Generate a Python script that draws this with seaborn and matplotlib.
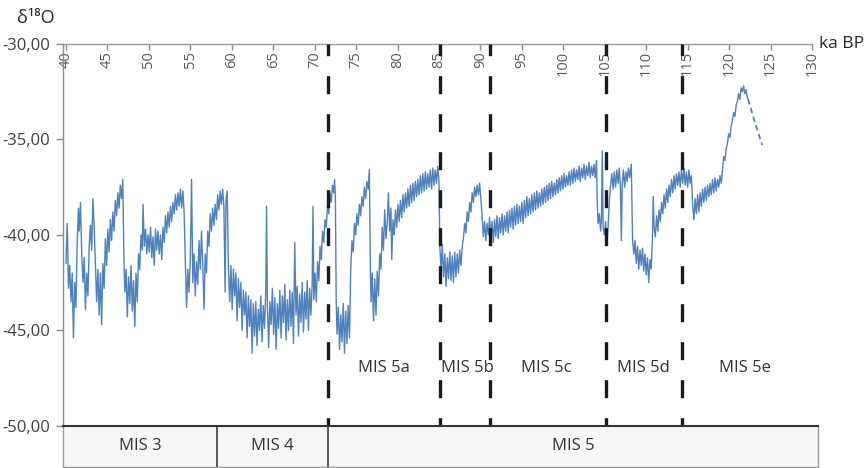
import matplotlib
matplotlib.use("Agg")
import matplotlib.pyplot as plt
import seaborn as sns
import pandas as pd

# ----------------------------
# Data (ka BP, per mil)
# ----------------------------
age_ka = [
    # MIS 3
    40.0, 40.15, 40.3, 40.45, 40.6, 40.75, 40.9, 41.05, 41.2, 41.35,
    41.5, 41.6, 41.75, 41.9, 42.05, 42.2, 42.35, 42.5, 42.65, 42.8,
    42.95, 43.1, 43.25, 43.4, 43.55, 43.7, 43.85, 44.0, 44.15, 44.3,
    44.45, 44.6, 44.75, 44.9, 45.05, 45.2, 45.35, 45.5, 45.65, 45.8,
    45.95, 46.1, 46.25, 46.4, 46.55, 46.7, 46.85, 47.0, 47.1, 47.25,
    47.4, 47.55, 47.7, 47.85, 48.0, 48.15, 48.3, 48.45, 48.6, 48.75,
    48.9, 49.05, 49.2, 49.3, 49.45, 49.6, 49.75, 49.9, 50.05, 50.2,
    50.35, 50.5, 50.65, 50.8, 50.95, 51.1, 51.25, 51.4, 51.55, 51.7,
    51.85, 52.0, 52.15, 52.3, 52.45, 52.6, 52.75, 52.9, 53.05, 53.2,
    53.35, 53.5, 53.65, 53.8, 53.95, 54.1, 54.25, 54.4, 54.55, 54.7,
    54.85, 55.0, 55.15, 55.3, 55.45, 55.6, 55.75, 55.9, 56.05, 56.2,
    56.35, 56.5, 56.65, 56.8, 56.95, 57.1, 57.25, 57.4, 57.55, 57.7,
    57.85, 58.0, 58.15, 58.3, 58.45, 58.6, 58.75, 58.9, 59.05, 59.2,
    59.3, 59.45, 59.6, 59.75, 59.9,
    # MIS 4
    60.05, 60.2, 60.35, 60.5, 60.65, 60.8, 60.95, 61.1, 61.25, 61.4,
    61.55, 61.7, 61.85, 62.0, 62.15, 62.3, 62.45, 62.6, 62.75, 62.9,
    63.05, 63.2, 63.35, 63.5, 63.65, 63.8, 63.95, 64.1, 64.2, 64.3,
    64.45, 64.6, 64.75, 64.9, 65.05, 65.2, 65.35, 65.5, 65.65, 65.8,
    65.95, 66.1, 66.25, 66.4, 66.55, 66.7, 66.85, 67.0, 67.15, 67.3,
    67.45, 67.6, 67.75, 67.9, 68.05, 68.2, 68.35, 68.5, 68.65, 68.8,
    68.95, 69.1, 69.25, 69.4, 69.55, 69.7, 69.8, 69.9, 70.05, 70.2,
    70.35, 70.5, 70.65, 70.8, 70.95, 71.1, 71.25,
    # MIS 5a
    71.4, 71.55, 71.7, 71.85, 72.0, 72.15, 72.3, 72.4, 72.5, 72.6,
    72.7, 72.85, 73.0, 73.15, 73.3, 73.45, 73.6, 73.75, 73.9, 74.05,
    74.2, 74.35, 74.5, 74.65, 74.8, 74.95, 75.1, 75.25, 75.4, 75.55,
    75.7, 75.85, 76.0, 76.15, 76.3, 76.45, 76.6, 76.7, 76.8, 76.95,
    77.1, 77.25, 77.4, 77.55, 77.7, 77.85, 78.0, 78.15, 78.3, 78.45,
    78.6, 78.75, 78.9, 79.05, 79.2, 79.3, 79.45, 79.6, 79.75, 79.9,
    80.05, 80.2, 80.35, 80.5, 80.65, 80.8, 80.95, 81.1, 81.25, 81.4,
    81.55, 81.7, 81.85, 82.0, 82.15, 82.3, 82.45, 82.6, 82.75, 82.9,
    83.05, 83.2, 83.35, 83.5, 83.65, 83.8, 83.95, 84.1, 84.25, 84.4,
    84.55, 84.7, 84.85, 85.0,
    # MIS 5b
    85.1, 85.25, 85.4, 85.55, 85.7, 85.85, 86.0, 86.15, 86.3, 86.45,
    86.6, 86.75, 86.9, 87.05, 87.2, 87.35, 87.5, 87.65, 87.8, 87.95,
    88.1, 88.25, 88.4, 88.55, 88.7, 88.85, 89.0, 89.15, 89.3, 89.45,
    89.6, 89.75, 89.9, 90.05, 90.2,
    # MIS 5c
    90.35, 90.5, 90.65, 90.8, 90.95, 91.1, 91.25, 91.4, 91.55, 91.7,
    91.85, 92.0, 92.15, 92.3, 92.45, 92.6, 92.75, 92.9, 93.05, 93.2,
    93.35, 93.5, 93.65, 93.8, 93.95, 94.1, 94.25, 94.4, 94.55, 94.7,
    94.85, 95.0, 95.15, 95.3, 95.45, 95.6, 95.75, 95.9, 96.05, 96.2,
    96.35, 96.5, 96.65, 96.8, 96.95, 97.1, 97.25, 97.4, 97.55, 97.7,
    97.85, 98.0, 98.15, 98.3, 98.45, 98.6, 98.75, 98.9, 99.05, 99.2,
    99.35, 99.5, 99.65, 99.8, 99.95, 100.1, 100.25, 100.4, 100.55, 100.7,
    100.85, 101.0, 101.15, 101.3, 101.45, 101.6, 101.75, 101.9, 102.05, 102.2,
    102.35, 102.5, 102.65, 102.8, 102.95, 103.1, 103.25, 103.4, 103.55, 103.7,
    103.85, 104.0,
    # MIS 5d
    104.1, 104.2, 104.35, 104.5, 104.6, 104.7, 104.8, 104.95, 105.1, 105.25,
    105.4, 105.55, 105.7, 105.85, 106.0, 106.15, 106.3, 106.45, 106.6, 106.75,
    106.9, 107.0, 107.1, 107.25, 107.4, 107.55, 107.7, 107.85, 108.0, 108.2,
    108.35, 108.5, 108.65, 108.8, 108.95, 109.1, 109.25, 109.4, 109.55, 109.7,
    109.85, 110.0, 110.15, 110.3, 110.45, 110.6, 110.75, 110.85, 110.95, 111.1,
    111.25, 111.4, 111.55, 111.7, 111.85, 112.0, 112.15, 112.3, 112.45, 112.6,
    112.75, 112.9, 113.05, 113.2, 113.35, 113.5, 113.65, 113.8, 113.95, 114.1,
    114.25,
    # MIS 5e
    114.4, 114.55, 114.7, 114.85, 115.0, 115.15, 115.3, 115.45, 115.6, 115.75,
    115.9, 116.05, 116.2, 116.35, 116.5, 116.65, 116.8, 116.95, 117.1, 117.25,
    117.4, 117.55, 117.7, 117.85, 118.0, 118.15, 118.3, 118.45, 118.6, 118.75,
    118.9, 119.05, 119.2, 119.35, 119.5, 119.65, 119.8, 119.95, 120.1, 120.25,
    120.4, 120.55, 120.7, 120.85, 121.0, 121.15, 121.3, 121.45, 121.6, 121.75,
    121.9, 122.05, 122.2, 122.3,
]

d18o = [
    # MIS 3
    -41.5, -39.4, -42.8, -41.6, -43.5, -42.0, -45.4, -42.5, -43.8, -40.5,
    -38.6, -39.8, -38.3, -41.0, -42.5, -41.2, -43.9, -42.0, -43.2, -40.6,
    -39.5, -40.8, -38.1, -39.6, -41.5, -43.5, -41.8, -44.2, -42.0, -44.7,
    -41.5, -42.8, -40.2, -41.6, -39.7, -40.9, -39.2, -40.3, -38.8, -39.8,
    -38.2, -39.0, -37.8, -38.6, -37.4, -38.1, -37.1, -41.5, -43.0, -41.8,
    -44.3, -42.2, -43.6, -41.6, -44.0, -42.4, -44.8, -42.0, -43.5, -41.0,
    -41.8, -40.0, -40.8, -38.4, -40.6, -39.7, -41.0, -40.0, -40.9, -39.6,
    -41.2, -40.1, -41.6, -39.7, -40.8, -39.8, -41.0, -40.0, -41.3, -39.6,
    -40.4, -39.0, -39.9, -38.8, -39.6, -38.5, -39.3, -38.3, -38.9, -37.9,
    -38.7, -37.8, -38.5, -37.6, -38.6, -37.7, -38.8, -41.5, -43.8, -41.8,
    -43.0, -41.2, -37.1, -42.5, -41.0, -43.2, -41.4, -42.6, -40.3, -41.8,
    -39.8, -41.5, -43.9, -41.0, -42.0, -39.8, -40.6, -38.9, -39.8, -38.6,
    -39.5, -38.4, -39.2, -37.9, -38.7, -37.7, -38.4, -37.6, -38.5, -43.0,
    -38.2, -37.7, -41.8, -43.5, -41.6,
    # MIS 4
    -43.9, -41.8, -43.2, -42.0, -44.5, -42.3, -43.8, -42.5, -45.0, -42.9,
    -44.2, -43.0, -45.4, -43.2, -44.8, -43.4, -46.2, -43.6, -45.3, -43.5,
    -45.8, -43.9, -45.0, -43.2, -45.6, -43.7, -44.9, -43.0, -38.5, -43.8,
    -45.9, -43.5, -44.7, -42.8, -45.2, -43.3, -46.0, -43.6, -44.9, -42.9,
    -45.4, -43.2, -44.6, -42.6, -45.5, -43.4, -45.0, -42.9, -44.8, -43.0,
    -45.7, -40.4, -44.2, -42.7, -45.3, -43.1, -44.6, -42.5, -45.1, -43.0,
    -44.4, -42.4, -45.0, -42.8, -44.2, -42.6, -38.5, -43.4, -42.0, -43.5,
    -41.4, -42.4, -40.6, -41.3, -39.8, -40.4, -39.2,
    # MIS 5a
    -39.6, -38.5, -38.9, -37.8, -38.3, -37.4, -37.8, -37.1, -38.0, -43.5,
    -45.2, -43.8, -46.0, -44.2, -45.6, -43.6, -46.2, -44.0, -45.7, -43.7,
    -45.4, -41.8, -40.3, -40.9, -39.4, -40.0, -38.9, -39.5, -38.4, -39.0,
    -38.0, -38.5, -37.5, -38.1, -37.2, -37.6, -36.6, -41.0, -43.5, -42.0,
    -44.5, -42.3, -44.2, -41.9, -43.2, -41.0, -41.8, -39.6, -40.8, -38.7,
    -40.2, -39.4, -37.8, -39.8, -38.6, -41.3, -39.2, -40.0, -38.7, -39.6,
    -38.4, -39.3, -38.2, -39.1, -37.9, -38.8, -37.8, -38.6, -37.6, -38.5,
    -37.4, -38.3, -37.3, -38.2, -37.2, -38.0, -37.1, -37.9, -36.9, -37.8,
    -36.8, -37.7, -36.7, -37.6, -36.8, -37.5, -36.6, -37.6, -36.5, -37.4,
    -36.6, -37.3, -36.4, -37.2,
    # MIS 5b
    -40.6, -41.8, -40.5, -42.2, -41.0, -42.7, -41.2, -42.3, -40.9, -42.4,
    -41.1, -42.5, -40.9, -42.2, -41.0, -42.0, -40.8, -41.6, -40.6, -40.2,
    -39.4, -39.9, -38.8, -39.3, -38.3, -38.8, -37.8, -38.3, -37.5, -38.0,
    -37.4, -37.9, -37.3, -38.1, -39.0,
    # MIS 5c
    -40.1, -39.3, -40.3, -39.4, -40.0, -39.1, -40.2, -39.3, -40.4, -39.2,
    -40.1, -39.0, -40.2, -39.1, -39.9, -38.9, -40.0, -39.0, -39.8, -38.8,
    -39.9, -38.7, -39.6, -38.6, -39.7, -38.5, -39.5, -38.4, -39.4, -38.5,
    -39.3, -38.3, -39.4, -38.2, -39.1, -38.0, -39.0, -38.1, -38.9, -37.9,
    -38.8, -37.8, -38.7, -37.7, -38.6, -37.8, -38.5, -37.6, -38.4, -37.5,
    -38.3, -37.4, -38.2, -37.3, -38.1, -37.2, -38.0, -37.3, -37.9, -37.1,
    -37.8, -37.0, -37.7, -36.9, -37.6, -36.8, -37.5, -36.9, -37.4, -36.7,
    -37.4, -36.6, -37.3, -36.5, -37.2, -36.6, -37.1, -36.4, -37.2, -36.5,
    -37.0, -36.3, -37.1, -36.4, -36.9, -36.2, -37.0, -36.4, -36.9, -36.3,
    -37.0, -36.1,
    # MIS 5d
    -38.5, -39.4, -38.9, -39.8, -39.2, -35.6, -39.6, -40.0, -39.3, -40.4,
    -39.6, -38.2, -37.4, -36.8, -37.6, -36.7, -37.5, -36.6, -37.3, -36.5,
    -37.6, -40.3, -37.4, -36.6, -37.5, -36.7, -37.2, -36.5, -37.0, -36.3,
    -40.2, -41.0, -40.3, -41.5, -40.6, -41.8, -40.8, -41.6, -40.7, -41.9,
    -41.0, -42.1, -41.2, -42.5, -41.3, -41.8, -40.2, -38.0, -39.6, -40.1,
    -39.0, -39.8, -38.7, -39.3, -38.3, -38.9, -37.9, -38.6, -37.6, -38.3,
    -37.4, -38.0, -37.1, -37.8, -36.9, -37.6, -36.8, -37.4, -36.7, -37.5,
    -36.6,
    # MIS 5e
    -37.3, -36.5, -37.4, -36.7, -37.5, -36.6, -37.3, -36.9, -38.4, -39.2,
    -38.1, -38.9, -37.9, -38.8, -37.8, -38.5, -37.6, -38.3, -37.5, -38.2,
    -37.4, -38.0, -37.3, -37.9, -37.1, -37.8, -37.0, -37.7, -37.1, -37.5,
    -36.9, -37.3, -36.6, -35.9, -36.1, -35.5, -35.2, -34.7, -34.9, -34.3,
    -34.0, -33.6, -33.8, -33.2, -33.0, -32.6, -32.9, -32.3, -32.5, -32.2,
    -32.6, -32.4, -32.8, -32.9,
]

# extrapolated (dashed) tail
tail_age = [122.3, 123.1, 124.0]
tail_d18o = [-32.9, -34.1, -35.3]

substage_bounds = [71.6, 85.1, 91.2, 105.2, 114.3]
substage_names = ["MIS 5a", "MIS 5b", "MIS 5c", "MIS 5d", "MIS 5e"]
substage_label_x = [78.4, 88.4, 97.9, 109.6, 121.9]

stage_names = ["MIS 3", "MIS 4", "MIS 5"]
stage_edges = [39.64, 58.2, 71.6, 130.7]

x_ticks = [40, 45, 50, 55, 60, 65, 70, 75, 80, 85, 90, 95, 100, 105, 110, 115, 120, 125, 130]
y_ticks = [-50, -45, -40, -35, -30]
y_tick_labels = ["-50,00", "-45,00", "-40,00", "-35,00", "-30,00"]

assert len(age_ka) == len(d18o)

# ----------------------------
# Style
# ----------------------------
sns.set_theme(style="white")
plt.rcParams["font.family"] = ["Open Sans", "DejaVu Sans"]

W, H = 865, 468
fig = plt.figure(figsize=(W / 100, H / 100), dpi=100)
fig.patch.set_facecolor("white")

x_left, x_right = 63, 812
y_top, y_bot = 44, 425.7
ax = fig.add_axes([x_left / W, 1 - y_bot / H, (x_right - x_left) / W, (y_bot - y_top) / H])

df = pd.DataFrame({"age": age_ka, "d18o": d18o})
tail = pd.DataFrame({"age": tail_age, "d18o": tail_d18o})
line_color = "#4F81BD"
sns.lineplot(data=df, x="age", y="d18o", ax=ax, color=line_color, linewidth=1.0,
             estimator=None, sort=False, zorder=2)
sns.lineplot(data=tail, x="age", y="d18o", ax=ax, color=line_color, linewidth=1.3,
             estimator=None, sort=False, linestyle=(0, (3, 2)), zorder=2)

ax.set_xlim(stage_edges[0], 130)
ax.set_ylim(-50, -30)
ax.set_xlabel("")
ax.set_ylabel("")

# MIS substage boundaries
for b in substage_bounds:
    ax.axvline(b, color="#1a1a1a", lw=2.4, linestyle=(2.9, (5.4, 6.0)), zorder=3)
for name, xpos in zip(substage_names, substage_label_x):
    ax.text(xpos, -47.0, name, ha="center", va="center", fontsize=12, color="#333333")

# axes and ticks
for side in ["right", "bottom"]:
    ax.spines[side].set_visible(False)
ax.spines["left"].set_color("#8c8c8c")
ax.spines["top"].set_color("#9a9a9a")
ax.spines["left"].set_linewidth(1.0)
ax.spines["top"].set_linewidth(1.0)

ax.set_yticks(y_ticks)
ax.set_yticklabels(y_tick_labels)
ax.tick_params(axis="y", direction="out", length=5, width=1, color="#8c8c8c",
               labelsize=12, labelcolor="#404040", pad=4, left=True)

ax.set_xticks(x_ticks)
ax.tick_params(axis="x", top=True, bottom=False, labeltop=True, labelbottom=False,
               direction="in", length=4, width=1, color="#8c8c8c",
               labelsize=10.5, labelcolor="#595959", labelrotation=90, pad=-5)
for t in ax.xaxis.get_major_ticks():
    t.label2.set_verticalalignment("top")

ax.annotate("ka BP", xy=(1, 1), xycoords="axes fraction", xytext=(5, 0),
            textcoords="offset points", ha="left", va="center", fontsize=12.5,
            color="#262626")
fig.text(17 / W, 1 - 18 / H, "δ¹⁸O", ha="left", va="center", fontsize=13, color="#262626")

# MIS stage table under the plot
tab_right = 818
ax_tab = fig.add_axes([x_left / W, 1.0 / H, (tab_right - x_left) / W, (H - 1.0 - y_bot) / H])
ax_tab.set_xlim(stage_edges[0], stage_edges[-1])
ax_tab.set_ylim(0, 1)
ax_tab.set_facecolor("#f7f7f7")
ax_tab.set_xticks([])
ax_tab.set_yticks([])
ax_tab.spines["top"].set_color("#333333")
ax_tab.spines["top"].set_linewidth(1.5)
for side in ["left", "bottom", "right"]:
    ax_tab.spines[side].set_color("#9a9a9a")
    ax_tab.spines[side].set_linewidth(1.0)
for b in stage_edges[1:-1]:
    ax_tab.axvline(b, color="#404040", lw=1.2)
for name, lo, hi in zip(stage_names, stage_edges[:-1], stage_edges[1:]):
    ax_tab.text((lo + hi) / 2, 0.5, name, ha="center", va="center", fontsize=12,
                color="#333333")

fig.savefig("out.png", dpi=100)
